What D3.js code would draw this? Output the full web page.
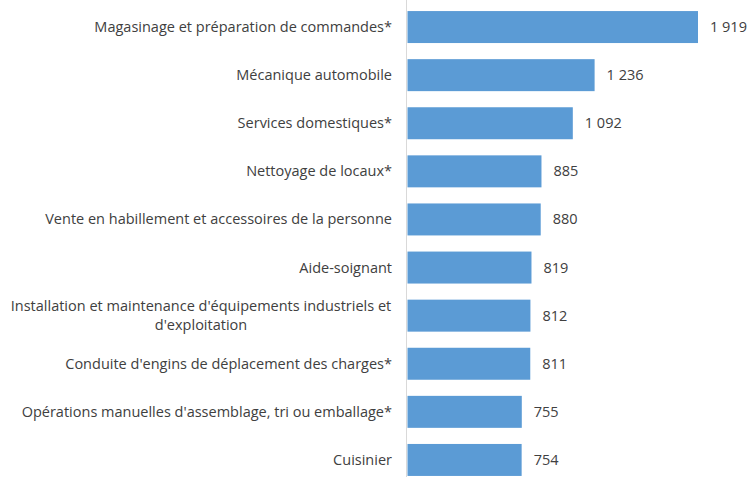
<!DOCTYPE html>
<html><head><meta charset="utf-8">
<script src="https://cdn.jsdelivr.net/npm/d3@7"></script>
<style>body{margin:0;background:#fff}svg{display:block}text{font-family:"Open Sans",Lato,sans-serif;fill:#404040}</style>
</head><body>
<script>
const categories = [
  "Magasinage et préparation de commandes*",
  "Mécanique automobile",
  "Services domestiques*",
  "Nettoyage de locaux*",
  "Vente en habillement et accessoires de la personne",
  "Aide-soignant",
  "Installation et maintenance d'équipements industriels et|d'exploitation",
  "Conduite d'engins de déplacement des charges*",
  "Opérations manuelles d'assemblage, tri ou emballage*",
  "Cuisinier"
];
const values = [1919, 1236, 1092, 885, 880, 819, 812, 811, 755, 754];

const W = 747, H = 477;
const x0 = 407.5;
const svg = d3.select("body").append("svg").attr("width", W).attr("height", H);
const x = d3.scaleLinear().domain([0, 1919]).range([x0, 698]);
const y = d3.scaleBand().domain(categories).range([3, 484]).paddingInner(0.335).paddingOuter(0.1675);
const fr = d3.formatLocale({decimal: ",", thousands: "\u00a0", grouping: [3]});
const fmt = fr.format(",d");
const FS = 14.5;

svg.selectAll("rect.bar").data(values).join("rect")
  .attr("x", x(0)).attr("y", (d, i) => y(categories[i]))
  .attr("width", d => x(d) - x(0)).attr("height", y.bandwidth())
  .attr("fill", "#5B9BD5");

svg.append("line").attr("x1", 406.5).attr("x2", 406.5).attr("y1", 0).attr("y2", 477)
  .attr("stroke", "#D9D9D9").attr("stroke-width", 1);

svg.selectAll("text.val").data(values).join("text")
  .attr("x", d => x(d) + 12).attr("y", (d, i) => y(categories[i]) + y.bandwidth() / 2 + 5)
  .attr("font-size", FS).text(d => fmt(d));

categories.forEach((c, i) => {
  const cy = y(c) + y.bandwidth() / 2;
  const lines = c.split("|");
  if (lines.length === 1) {
    svg.append("text").attr("x", 392).attr("y", cy + 5).attr("text-anchor", "end")
      .attr("font-size", FS).text(c);
  } else {
    const t = svg.append("text").attr("font-size", FS).attr("text-anchor", "middle");
    lines.forEach((l, j) => t.append("tspan").attr("x", 201).attr("y", cy + 5 + (j - 0.5) * 19).text(l));
  }
});
</script>
</body></html>
